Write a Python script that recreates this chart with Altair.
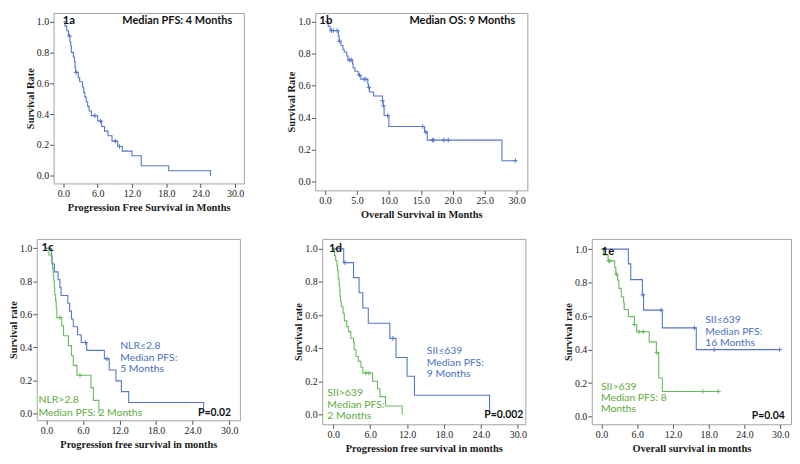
import altair as alt
import pandas as pd

# ---------------- data ----------------
# 1a: progression free survival, whole cohort
a_time = [0, 0.3, 0.6, 0.9, 1.15, 1.3, 1.4, 1.75, 1.95, 2.05, 2.15, 2.6, 2.85, 3.35, 3.55, 3.75,
          4.0, 4.25, 4.5, 4.9, 6.0, 6.7, 7.2, 7.8, 8.5, 9.5, 10.3, 12.0, 13.6, 18.4, 25.7]
a_surv = [1.0, 0.97, 0.94, 0.906, 0.87, 0.84, 0.80, 0.77, 0.74, 0.70, 0.67, 0.635, 0.61, 0.575, 0.54, 0.51,
          0.48, 0.45, 0.42, 0.39, 0.355, 0.32, 0.29, 0.26, 0.225, 0.19, 0.16, 0.13, 0.065, 0.033, 0.0]
a_cens_time = [1.08, 2.25, 5.5, 6.5, 9.1, 9.8]
a_cens_surv = [0.906, 0.67, 0.39, 0.355, 0.225, 0.19]

# 1b: overall survival, whole cohort
b_time = [0, 0.5, 0.8, 2.1, 2.2, 2.5, 2.8, 3.0, 3.4, 3.6, 4.3, 4.4, 4.7, 5.2, 5.6, 6.7, 6.8, 6.95,
          7.6, 9.0, 9.1, 9.25, 10.0, 15.6, 16.0, 27.7, 29.8]
b_surv = [1.0, 0.97, 0.943, 0.91, 0.877, 0.85, 0.825, 0.81, 0.785, 0.76, 0.735, 0.71, 0.69, 0.665, 0.64,
          0.61, 0.59, 0.56, 0.535, 0.506, 0.475, 0.414, 0.345, 0.31, 0.26, 0.132, 0.132]
b_cens_time = [1.0, 1.3, 1.9, 2.3, 3.8, 4.1, 5.4, 6.1, 6.4, 6.85, 9.0, 9.15, 9.8, 15.3, 15.8, 16.8,
               17.0, 18.6, 19.3, 29.8]
b_cens_surv = [0.943, 0.943, 0.943, 0.877, 0.76, 0.76, 0.665, 0.64, 0.64, 0.59, 0.506, 0.475, 0.414,
               0.345, 0.31, 0.26, 0.26, 0.26, 0.26, 0.132]

# 1c: PFS by NLR (low = blue, high = green)
c_low_time = [0, 0.8, 0.9, 1.3, 1.9, 2.2, 2.4, 3.5, 3.8, 4.1, 4.4, 5.1, 5.7, 6.6, 9.5, 10.3, 11.4, 12.3, 13.5, 25.8]
c_low_surv = [1.0, 0.952, 0.905, 0.857, 0.81, 0.762, 0.714, 0.667, 0.619, 0.571, 0.524, 0.476, 0.429,
              0.381, 0.33, 0.262, 0.196, 0.131, 0.065, 0.0]
c_low_cens_time = [6.4, 9.9]
c_low_cens_surv = [0.429, 0.33]
c_high_time = [0, 0.4, 0.9, 1.0, 1.1, 1.2, 1.3, 1.35, 1.5, 1.6, 1.7, 2.5, 2.8, 3.6, 4.1, 4.4, 5.0, 7.3, 7.7, 8.6]
c_high_surv = [1.0, 0.96, 0.92, 0.88, 0.84, 0.80, 0.76, 0.72, 0.68, 0.64, 0.58, 0.53, 0.47, 0.41, 0.35,
               0.29, 0.23, 0.155, 0.078, 0.0]
c_high_cens_time = [2.2, 5.5]
c_high_cens_surv = [0.58, 0.23]

# 1d: PFS by SII
d_low_time = [0, 1.7, 3.3, 4.2, 4.8, 5.7, 9.2, 10.2, 12.0, 13.2, 25.4]
d_low_surv = [1.0, 0.917, 0.826, 0.735, 0.643, 0.551, 0.459, 0.344, 0.23, 0.115, 0.0]
d_low_cens_time = [1.9, 9.7]
d_low_cens_surv = [0.917, 0.459]
d_high_time = [0, 0.2, 0.4, 0.6, 0.7, 0.8, 0.95, 1.05, 1.1, 1.2, 1.3, 1.6, 1.8, 2.2, 2.5, 2.85, 3.3, 3.4,
               3.7, 4.1, 4.5, 4.8, 6.4, 7.2, 7.6, 8.5, 11.2]
d_high_surv = [1.0, 0.96, 0.93, 0.90, 0.87, 0.82, 0.78, 0.75, 0.715, 0.68, 0.65, 0.61, 0.565, 0.53, 0.50,
               0.46, 0.435, 0.39, 0.35, 0.32, 0.285, 0.25, 0.20, 0.155, 0.107, 0.05, 0.0]
d_high_cens_time = [5.3, 5.8]
d_high_cens_surv = [0.25, 0.25]

# 1e: OS by SII
e_low_time = [0, 4.5, 4.9, 6.85, 7.05, 10.2, 15.9, 29.9]
e_low_surv = [1.0, 0.912, 0.818, 0.727, 0.636, 0.53, 0.40, 0.40]
e_low_cens_time = [0.6, 6.95, 10.0, 15.6, 18.9, 29.9]
e_low_cens_surv = [1.0, 0.727, 0.636, 0.53, 0.40, 0.40]
e_high_time = [0, 0.3, 1.1, 2.2, 2.4, 2.7, 2.9, 3.3, 3.7, 3.8, 4.5, 5.5, 5.9, 8.0, 9.2, 9.6, 10.2, 19.6]
e_high_surv = [1.0, 0.966, 0.93, 0.89, 0.85, 0.815, 0.766, 0.716, 0.68, 0.64, 0.597, 0.55, 0.507, 0.446,
               0.382, 0.23, 0.15, 0.15]
e_high_cens_time = [1.2, 1.4, 2.5, 5.5, 6.3, 7.0, 9.3, 17.0, 19.6]
e_high_cens_surv = [0.93, 0.93, 0.85, 0.55, 0.507, 0.507, 0.382, 0.15, 0.15]

# axis ticks and titles
x_ticks_6 = [0, 6, 12, 18, 24, 30]
x_ticks_5 = [0, 5, 10, 15, 20, 25, 30]
y_ticks = [0, 0.2, 0.4, 0.6, 0.8, 1.0]
titles_x = ["Progression Free Survival in Months", "Overall Survival in Months",
            "Progression free survival in months", "Progression free survival in months",
            "Overall survival in months"]
titles_y = ["Survival Rate", "Survival Rate", "Survival rate", "Survival rate", "Survival rate"]

# annotation texts (text, month, survival)
tags = ["1a", "1b", "1c", "1d", "1e"]
tag_time = [-0.1, -0.9, -0.8, -0.7, 0.0]
tag_surv = [1.0, 1.0, 1.0, 1.0, 0.98]
heads = ["Median PFS: 4 Months", "Median OS: 9 Months"]
head_time = [19.9, 21.5]
head_surv = [1.0, 1.0]
c_low_note = ["NLR\u22642.8", "Median PFS:", "5 Months"]
c_low_note_time = 12.1
c_low_note_surv = [0.406, 0.336, 0.266]
c_high_note = ["NLR>2.8", "Median PFS: 2 Months"]
c_high_note_time = -1.3
c_high_note_surv = [0.078, 0.0]
d_low_note = ["SII\u2264639", "Median PFS:", "9 Months"]
d_low_note_time = 15.2
d_low_note_surv = [0.381, 0.313, 0.246]
d_high_note = ["SII>639", "Median PFS:", "2 Months"]
d_high_note_time = -0.95
d_high_note_surv = [0.126, 0.058, -0.009]
e_low_note = ["SII\u2264639", "Median PFS:", "16 Months"]
e_low_note_time = 17.4
e_low_note_surv = [0.574, 0.507, 0.44]
e_high_note = ["SII>639", "Median PFS: 8", "Months"]
e_high_note_time = -0.1
e_high_note_surv = [0.178, 0.111, 0.044]
p_values = ["P=0.02", "P=0.002", "P=0.04"]
p_time = [27.6, 27.7, 28.0]
p_surv = [0.0, -0.006, 0.004]

# ---------------- styling ----------------
BLUE_LINE = "#5877cc"
GREEN_LINE = "#67bb5c"
BLUE_TEXT = "#4a70c2"
GREEN_TEXT = "#5cab3c"
SANS = "Lato"
SERIF = "Liberation Serif"
CENSOR = "M-1,0L1,0M0,-1L0,1"

AX = dict(grid=False, domain=False, tickColor="#555555", tickSize=4, tickWidth=1,
          labelFont=SERIF, labelFontSize=10, labelColor="#1a1a1a",
          titleFont=SERIF, titleFontSize=10.5, titleFontWeight="bold", titleColor="#1a1a1a",
          labelPadding=1, labelFlush=False, labelOverlap=False)


def panel(idx, curves, notes, xdom, ydom, xticks, w, h):
    xs = alt.Scale(domain=xdom, nice=False, zero=False)
    ys = alt.Scale(domain=ydom, nice=False, zero=False)
    xax = alt.Axis(values=xticks, format=".1f", title=titles_x[idx], titlePadding=4, **AX)
    yax = alt.Axis(values=y_ticks, format=".1f", title=titles_y[idx], titlePadding=1, **AX)

    def enc():
        return dict(x=alt.X("t:Q", scale=xs, axis=xax), y=alt.Y("s:Q", scale=ys, axis=yax))

    layers = []
    for t, s, ct, cs, col in curves:
        layers.append(alt.Chart(pd.DataFrame({"t": t, "s": s})).mark_line(
            interpolate="step-after", color=col, strokeWidth=1.1).encode(**enc()))
        if ct:
            layers.append(alt.Chart(pd.DataFrame({"t": ct, "s": cs})).mark_point(
                shape=CENSOR, size=22, color=col, filled=False, strokeWidth=1, opacity=1).encode(**enc()))
    for txt, t, s, col, align, weight, size in notes:
        df = pd.DataFrame({"t": t, "s": s, "txt": txt})
        layers.append(alt.Chart(df).mark_text(
            align=align, baseline="middle", font=SANS, fontSize=size, fontWeight=weight,
            color=col).encode(text="txt:N", **enc()))
    return alt.layer(*layers).properties(width=w, height=h)


def tag_note(i):
    return ([tags[i]], [tag_time[i]], [tag_surv[i]], "#111111", "left", "bold", 11.5)


def p_note(i):
    return ([p_values[i]], [p_time[i]], [p_surv[i]], "#111111", "center", "bold", 10.5)


pa = panel(0, [(a_time, a_surv, a_cens_time, a_cens_surv, BLUE_LINE)],
           [tag_note(0), ([heads[0]], [head_time[0]], [head_surv[0]], "#111111", "center", "bold", 11)],
           [-1.70, 31.53], [-0.049, 1.055], x_ticks_6, 192, 172)
pb = panel(1, [(b_time, b_surv, b_cens_time, b_cens_surv, BLUE_LINE)],
           [tag_note(1), ([heads[1]], [head_time[1]], [head_surv[1]], "#111111", "center", "bold", 11)],
           [-1.53, 31.68], [-0.053, 1.053], x_ticks_5, 214, 179)
pc = panel(2, [(c_low_time, c_low_surv, c_low_cens_time, c_low_cens_surv, BLUE_LINE),
               (c_high_time, c_high_surv, c_high_cens_time, c_high_cens_surv, GREEN_LINE)],
           [tag_note(2),
            (c_low_note, [c_low_note_time] * 3, c_low_note_surv, BLUE_TEXT, "left", "normal", 10.5),
            (c_high_note, [c_high_note_time] * 2, c_high_note_surv, GREEN_TEXT, "left", "normal", 10.5),
            p_note(0)],
           [-1.60, 31.76], [-0.043, 1.057], x_ticks_6, 205, 183)
pd_ = panel(3, [(d_low_time, d_low_surv, d_low_cens_time, d_low_cens_surv, BLUE_LINE),
                (d_high_time, d_high_surv, d_high_cens_time, d_high_cens_surv, GREEN_LINE)],
            [tag_note(3),
             (d_low_note, [d_low_note_time] * 3, d_low_note_surv, BLUE_TEXT, "left", "normal", 10.5),
             (d_high_note, [d_high_note_time] * 3, d_high_note_surv, GREEN_TEXT, "left", "normal", 10.5),
             p_note(1)],
            [-1.79, 31.22], [-0.060, 1.060], x_ticks_6, 205, 187)
pe = panel(4, [(e_low_time, e_low_surv, e_low_cens_time, e_low_cens_surv, BLUE_LINE),
               (e_high_time, e_high_surv, e_high_cens_time, e_high_cens_surv, GREEN_LINE)],
           [tag_note(4),
            (e_low_note, [e_low_note_time] * 3, e_low_note_surv, BLUE_TEXT, "left", "normal", 10.5),
            (e_high_note, [e_high_note_time] * 3, e_high_note_surv, GREEN_TEXT, "left", "normal", 10.5),
            p_note(2)],
           [-1.64, 31.80], [-0.046, 1.061], x_ticks_6, 201, 187)


def spacer(w):
    return alt.Chart(pd.DataFrame({"v": [0]})).mark_point(opacity=0).properties(
        width=w, height=1, view=alt.ViewBackground(stroke="transparent"))


top_row = alt.hconcat(spacer(17), pa, spacer(72), pb, spacing=0, bounds="flush")
bottom_row = alt.hconcat(pc, spacer(83), pd_, spacer(67), pe, spacing=0, bounds="flush")

chart = alt.vconcat(top_row, bottom_row, spacing=16).properties(
    padding=0, background="white"
).configure_view(stroke="#a3a3a3", strokeWidth=1)

chart.save("out.html", embed_options={"renderer": "svg", "actions": False})
